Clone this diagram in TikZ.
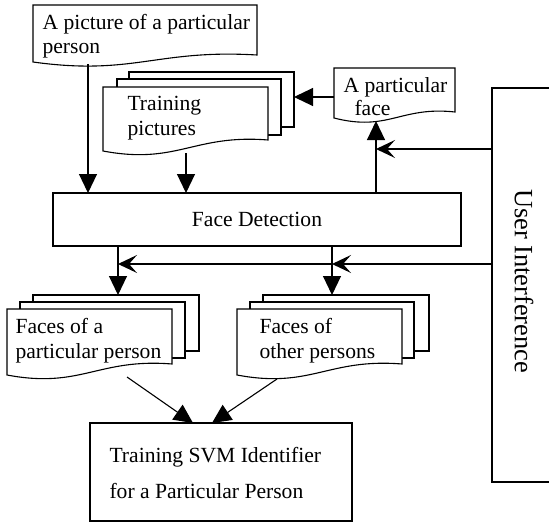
\documentclass[tikz,border=0pt]{standalone}
\usepackage{fontspec}
\setmainfont{Liberation Serif}
\usetikzlibrary{arrows.meta}
\begin{document}
\begin{tikzpicture}[x=1pt,y=-1pt,
  line width=1.1pt,
  txt/.style={anchor=base west,inner sep=0pt,font=\fontsize{21.6}{26}\selectfont},
  bigtip/.style={-{Triangle[width=18pt,length=19pt]}},
  barb/.style={-{Stealth[width=18pt,length=19pt,inset=8pt]}},
  docfill/.style={draw,fill=white}]
\useasboundingbox (0,0) rectangle (549,522);
\newcommand{\docshape}[5]{%
  \path[docfill] (#1,#3) -- (#2,#3) -- (#2,#5)
    .. controls ({#1+0.55*(#2-#1)},{#5-6}) and ({#1+0.45*(#2-#1)},{#4+14}) .. (#1,#4) -- cycle;}
% ---- A picture of a particular person
\docshape{33}{257}{5}{62}{55}
\node[txt] (pic1) at (42,29) {A picture of a particular};
\node[txt] (pic2) at (42,53) {person};
% ---- Training pictures stack
\path[docfill] (129,72) rectangle (294,127);
\path[docfill] (117,79) rectangle (281,135);
\docshape{103}{268}{87}{151}{140}
\node[txt] (tr1) at (127,110) {Training};
\node[txt] (tr2) at (127,135) {pictures};
% ---- A particular face
\docshape{334}{455}{68}{118}{112}
\node[txt] (pf1) at (343,92) {A particular};
\node[txt] (pf2) at (354,115) {face};
% ---- Face Detection
\node[draw,minimum width=408pt,minimum height=53pt,inner sep=0pt,
  font=\fontsize{21.6}{26}\selectfont] (fd) at (257,219.5) {Face Detection};
% ---- Faces of a particular person
\path[docfill] (33,295) rectangle (199,351);
\path[docfill] (20,302) rectangle (185,358);
\docshape{7}{172}{309}{375}{364}
\node[txt] (fp1) at (15,333) {Faces of a};
\node[txt] (fp2) at (15,358) {particular person};
% ---- Faces of other persons
\path[docfill] (263,295) rectangle (429,351);
\path[docfill] (250,302) rectangle (414,358);
\docshape{237}{402}{309}{375}{364}
\node[txt] (fo1) at (259,333) {Faces of};
\node[txt] (fo2) at (259,358) {other persons};
% ---- Training SVM
\node[draw,minimum width=262pt,minimum height=98pt,inner sep=0pt] (svm) at (221,472) {};
\node[txt] (svm1) at (109,462) {Training SVM Identifier};
\node[txt] (svm2) at (109,498) {for a Particular Person};
% ---- User Interference
\draw (549,88) -- (492,88) coordinate (uitop) -- (492,482) coordinate (uibot) -- (549,482);
\node[rotate=-90,font=\fontsize{26.4}{30}\selectfont,inner sep=0pt] (ui) at (524,281) {User Interference};
% ---- coordinates
\coordinate (a1s) at (88,64);
\coordinate (a1e) at (88,193);
\coordinate (a2s) at (186,153);
\coordinate (a2e) at (186,193);
\coordinate (a3s) at (334,97);
\coordinate (a3e) at (294,97);
\coordinate (a4s) at (376,193);
\coordinate (a4e) at (376,121);
\coordinate (f1) at (492,149);
\coordinate (f1e) at (376,149);
\coordinate (f2) at (493,264);
\coordinate (f2m) at (332,264);
\coordinate (f2e) at (118,264);
\coordinate (d1s) at (118,246);
\coordinate (d1e) at (118,295);
\coordinate (d2s) at (332,246);
\coordinate (d2e) at (332,295);
\coordinate (s1s) at (127,377);
\coordinate (s1e) at (193,423);
\coordinate (s2s) at (277,379);
\coordinate (s2e) at (212,423);
% ---- connectors
\draw[bigtip] (a1s) -- (a1e);
\draw[bigtip] (a2s) -- (a2e);
\draw[bigtip] (a3s) -- (a3e);
\draw[bigtip] (a4s) -- (a4e);
\draw[barb] (f1) -- (f1e);
\draw[barb] (f2) -- (f2m);
\draw[barb] (f2m) -- (f2e);
\draw[bigtip] (d1s) -- (d1e);
\draw[bigtip] (d2s) -- (d2e);
\draw[bigtip] (s1s) -- (s1e);
\draw[bigtip] (s2s) -- (s2e);
\end{tikzpicture}
\end{document}
